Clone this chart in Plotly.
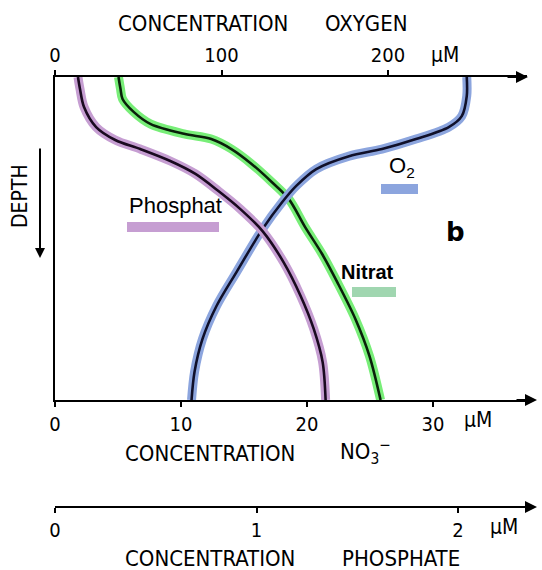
import plotly.graph_objects as go

# ---- data ----
depth_phosphate = [0, 0.037, 0.093, 0.155, 0.195, 0.223, 0.260, 0.300, 0.353, 0.409, 0.477, 0.573, 0.678, 0.780, 0.882, 1.0]
phosphate_uM = [0.114, 0.124, 0.144, 0.204, 0.299, 0.423, 0.572, 0.697, 0.811, 0.920, 1.030, 1.134, 1.219, 1.284, 1.328, 1.343]

depth_nitrate = [0, 0.037, 0.068, 0.108, 0.146, 0.176, 0.192, 0.223, 0.269, 0.325, 0.378, 0.464, 0.548, 0.635, 0.749, 0.864, 1.0]
nitrate_uM = [5.04, 5.2, 5.36, 6.24, 7.6, 10.24, 12.4, 14.0, 15.6, 17.2, 18.56, 19.84, 21.2, 22.4, 23.84, 24.96, 25.84]

depth_oxygen = [0, 0.059, 0.121, 0.155, 0.192, 0.223, 0.245, 0.285, 0.337, 0.387, 0.471, 0.604, 0.709, 0.811, 0.913, 1.0]
oxygen_uM = [247.3, 247.3, 244.3, 236.5, 216.8, 196.4, 176.6, 156.9, 144.9, 136.5, 124.6, 109.0, 97.0, 88.6, 83.8, 82.0]

oxygen_ticks = [0, 100, 200]
nitrate_ticks = [0, 10, 20, 30]
phosphate_ticks = [0, 1, 2]

# ---- style ----
C_PHOS = "rgb(198,158,210)"
C_NIT = "rgb(120,238,120)"
C_OXY = "rgb(140,165,222)"
C_NIT_BAR = "rgb(160,214,176)"
AX_FAMILY = "DejaVu Sans Condensed, DejaVu Sans, sans-serif"
TICK_FONT = dict(family=AX_FAMILY, size=20, color="black")
LBL_FONT = "Liberation Sans, Arial, sans-serif"

fig = go.Figure()

glow_w = 9
line_w = 2.6
sm = 0.9

fig.add_trace(go.Scatter(x=oxygen_uM, y=depth_oxygen, xaxis="x2", yaxis="y", mode="lines",
                         line=dict(color=C_OXY, width=glow_w, shape="spline", smoothing=sm), hoverinfo="skip", showlegend=False))
fig.add_trace(go.Scatter(x=nitrate_uM, y=depth_nitrate, xaxis="x", yaxis="y", mode="lines",
                         line=dict(color=C_NIT, width=glow_w, shape="spline", smoothing=sm), hoverinfo="skip", showlegend=False))
fig.add_trace(go.Scatter(x=phosphate_uM, y=depth_phosphate, xaxis="x3", yaxis="y", mode="lines",
                         line=dict(color=C_PHOS, width=glow_w, shape="spline", smoothing=sm), hoverinfo="skip", showlegend=False))

fig.add_trace(go.Scatter(x=oxygen_uM, y=depth_oxygen, xaxis="x2", yaxis="y", mode="lines", name="O2",
                         line=dict(color="#10102a", width=line_w, shape="spline", smoothing=sm), showlegend=False))
fig.add_trace(go.Scatter(x=nitrate_uM, y=depth_nitrate, xaxis="x", yaxis="y", mode="lines", name="Nitrat",
                         line=dict(color="#0a200a", width=line_w, shape="spline", smoothing=sm), showlegend=False))
fig.add_trace(go.Scatter(x=phosphate_uM, y=depth_phosphate, xaxis="x3", yaxis="y", mode="lines", name="Phosphat",
                         line=dict(color="#1a0a20", width=line_w, shape="spline", smoothing=sm), showlegend=False))

W, H = 542, 570
L, R, T, B = 55, 15, 77, 63
pw = W - L - R
ph = H - T - B


def px(xp):
    return (xp - L) / pw


def py(yp):
    return (H - B - yp) / ph


main_bottom = py(400)

common_ax = dict(showgrid=False, zeroline=False, showline=True, linecolor="black", linewidth=2,
                 ticks="outside", ticklen=5, tickwidth=1.5, tickcolor="black", tickfont=TICK_FONT)

fig.update_layout(
    width=W, height=H,
    margin=dict(l=L, r=R, t=T, b=B),
    paper_bgcolor="white", plot_bgcolor="white",
    xaxis=dict(range=[0, pw / 12.6], tickvals=nitrate_ticks, anchor="y", side="bottom", **common_ax),
    xaxis2=dict(range=[0, pw / 1.665], tickvals=oxygen_ticks, anchor="y", side="top", overlaying="x", **common_ax),
    xaxis3=dict(range=[0, pw / 201.5], tickvals=phosphate_ticks, anchor="free", position=0, side="bottom",
                overlaying="x", **common_ax),
    yaxis=dict(range=[1, 0], domain=[main_bottom, 1], showgrid=False, zeroline=False, showline=True,
               linecolor="black", linewidth=2, showticklabels=False, ticks=""),
)

ann = []


def text(x, y, s, size=22, family=None, bold=False, angle=0, xanchor="center"):
    ann.append(dict(xref="paper", yref="paper", x=px(x), y=py(y), text=("<b>%s</b>" % s) if bold else s,
                    showarrow=False, textangle=angle, xanchor=xanchor, yanchor="middle",
                    font=dict(family=family or AX_FAMILY, size=size, color="black")))


# axis titles
text(116, 23, "CONCENTRATION", xanchor="left")
text(323, 23, "OXYGEN", xanchor="left")
text(123, 453, "CONCENTRATION", xanchor="left")
text(338, 452, "NO<sub>3</sub><sup>−</sup>", xanchor="left")
text(123, 558, "CONCENTRATION", xanchor="left")
text(340, 558, "PHOSPHATE", xanchor="left")
# units
text(445, 55, "μM", size=21)
text(478, 420, "μM", size=21)
text(504, 527, "μM", size=21)
# depth
text(20, 196, "DEPTH", size=21, angle=-90)
# curve labels
text(175, 205, "Phosphat", size=22, family=LBL_FONT)
text(402, 167, "O<sub>2</sub>", size=22, family=LBL_FONT)
text(367, 272, "<b>Nitrat</b>", size=20, family=LBL_FONT)
text(455, 232, "b", size=26, family="DejaVu Sans, sans-serif", bold=True)

# axis arrowheads
for tip, yp in ((528, 77), (537, 400), (537, 507)):
    ann.append(dict(xref="paper", yref="paper", x=px(tip), y=py(yp), ax=-22, ay=0, text="",
                    showarrow=True, arrowhead=2, arrowsize=1.2, arrowwidth=2, arrowcolor="black"))
# depth arrow
ann.append(dict(xref="paper", yref="paper", x=px(40), y=py(258), ax=0, ay=-111, text="",
                showarrow=True, arrowhead=2, arrowsize=1, arrowwidth=2, arrowcolor="black"))

fig.update_layout(annotations=ann)

# legend colour bars
bars = [(127, 219, 227, C_PHOS), (381, 418, 189, C_OXY), (352, 396, 292, C_NIT_BAR)]
for x0, x1, yc, c in bars:
    fig.add_shape(type="rect", xref="paper", yref="paper", x0=px(x0), x1=px(x1), y0=py(yc + 5), y1=py(yc - 5),
                  fillcolor=c, line=dict(width=0))

fig.write_html("out.html", config={"displayModeBar": False},
               post_script="document.body.style.margin='0';document.body.style.overflow='hidden';")
